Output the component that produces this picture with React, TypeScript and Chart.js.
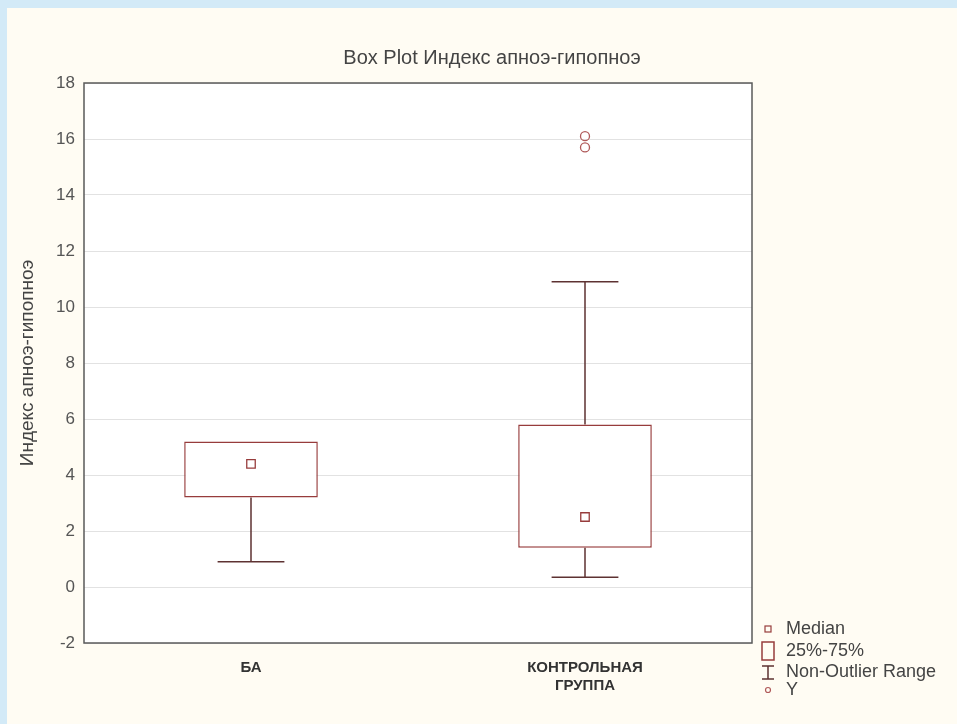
import React, { useEffect, useRef } from "react";
import { Chart, registerables } from "chart.js";
Chart.register(...registerables);

const categories = [["БА"], ["КОНТРОЛЬНАЯ", "ГРУППА"]];
const q1 = [3.2, 1.4];
const q3 = [5.2, 5.8];
const medians = [4.4, 2.5];
const whiskerLow = [0.9, 0.35];
const whiskerHigh = [5.2, 10.9];
const outliersA = [null, 16.1];
const outliersB = [null, 15.7];
const yMin = -2;
const yMax = 18;
const yStep = 2;

const titleText = "Box Plot Индекс апноэ-гипопноэ";
const yTitle = "Индекс апноэ-гипопноэ";
const legendLabels = ["Median", "25%-75%", "Non-Outlier Range", "Y"];

const FONT = "'Liberation Sans', Arial, sans-serif";
const BOX_COLOR = "#973c3c";
const WHISKER_COLOR = "#5e3232";
const FRAME_COLOR = "#5a5a5a";

const boxPlugin = {
  id: "boxExtras",
  beforeDraw(chart: any) {
    const { ctx, chartArea } = chart;
    ctx.save();
    ctx.fillStyle = "#ffffff";
    ctx.fillRect(chartArea.left, chartArea.top, chartArea.right - chartArea.left, chartArea.bottom - chartArea.top);
    ctx.restore();
  },
  beforeDatasetsDraw(chart: any) {
    const { ctx } = chart;
    const y = chart.scales.y;
    const meta = chart.getDatasetMeta(0);
    ctx.save();
    ctx.strokeStyle = WHISKER_COLOR;
    ctx.lineWidth = 1.5;
    meta.data.forEach((bar: any, i: number) => {
      const x = bar.x;
      const half = bar.width / 4;
      const yl = y.getPixelForValue(whiskerLow[i]);
      const yh = y.getPixelForValue(whiskerHigh[i]);
      const y1 = y.getPixelForValue(q1[i]);
      const y3 = y.getPixelForValue(q3[i]);
      ctx.beginPath();
      if (whiskerLow[i] < q1[i]) {
        ctx.moveTo(x, y1);
        ctx.lineTo(x, yl);
        ctx.moveTo(x - half, yl);
        ctx.lineTo(x + half, yl);
      }
      if (whiskerHigh[i] > q3[i]) {
        ctx.moveTo(x, y3);
        ctx.lineTo(x, yh);
        ctx.moveTo(x - half, yh);
        ctx.lineTo(x + half, yh);
      }
      ctx.stroke();
    });
    ctx.restore();
  },
  afterDraw(chart: any) {
    const { ctx, chartArea } = chart;
    ctx.save();
    // frame
    ctx.strokeStyle = FRAME_COLOR;
    ctx.lineWidth = 1.5;
    ctx.strokeRect(chartArea.left, chartArea.top, chartArea.right - chartArea.left, chartArea.bottom - chartArea.top);
    // title
    ctx.fillStyle = "#444";
    ctx.font = `20px ${FONT}`;
    ctx.textAlign = "center";
    ctx.textBaseline = "middle";
    ctx.fillText(titleText, 492, 58);
    // legend
    const lx = 768;
    const tx = 786;
    const rows = [629, 651, 672, 690];
    ctx.font = `18px ${FONT}`;
    ctx.textAlign = "left";
    ctx.fillStyle = "#444";
    legendLabels.forEach((t, i) => ctx.fillText(t, tx, rows[i]));
    ctx.strokeStyle = BOX_COLOR;
    ctx.lineWidth = 1.2;
    ctx.strokeRect(lx - 3, rows[0] - 3, 6, 6);
    ctx.lineWidth = 1.5;
    ctx.strokeRect(lx - 6, rows[1] - 9, 12, 18);
    ctx.strokeStyle = WHISKER_COLOR;
    ctx.beginPath();
    ctx.moveTo(lx - 6, rows[2] - 6);
    ctx.lineTo(lx + 6, rows[2] - 6);
    ctx.moveTo(lx, rows[2] - 6);
    ctx.lineTo(lx, rows[2] + 7);
    ctx.moveTo(lx - 6, rows[2] + 7);
    ctx.lineTo(lx + 6, rows[2] + 7);
    ctx.stroke();
    ctx.strokeStyle = "#b05a5a";
    ctx.lineWidth = 1.2;
    ctx.beginPath();
    ctx.arc(lx, rows[3], 2.5, 0, Math.PI * 2);
    ctx.stroke();
    ctx.restore();
  },
};

export default function App() {
  const ref = useRef<HTMLCanvasElement>(null);
  useEffect(() => {
    if (!ref.current) return;
    const chart = new Chart(ref.current, {
      type: "bar",
      data: {
        labels: categories as any,
        datasets: [
          {
            type: "bar",
            label: "25%-75%",
            data: q1.map((v, i) => [v, q3[i]]) as any,
            backgroundColor: "#ffffff",
            borderColor: BOX_COLOR,
            borderWidth: 1.5,
            borderSkipped: false,
            categoryPercentage: 0.8,
            barPercentage: 0.5,
            order: 3,
          } as any,
          {
            type: "line",
            label: "Median",
            data: medians,
            showLine: false,
            pointStyle: "rect",
            pointRadius: 6,
            pointBorderWidth: 1.3,
            pointBackgroundColor: "#ffffff",
            pointBorderColor: BOX_COLOR,
            order: 1,
          } as any,
          {
            type: "line",
            label: "Y",
            data: outliersA,
            showLine: false,
            pointStyle: "circle",
            pointRadius: 4.5,
            pointBorderWidth: 1.3,
            pointBackgroundColor: "rgba(255,255,255,0)",
            pointBorderColor: "#b05a5a",
            order: 1,
          } as any,
          {
            type: "line",
            label: "Y2",
            data: outliersB,
            showLine: false,
            pointStyle: "circle",
            pointRadius: 4.5,
            pointBorderWidth: 1.3,
            pointBackgroundColor: "rgba(255,255,255,0)",
            pointBorderColor: "#b05a5a",
            order: 1,
          } as any,
        ],
      },
      options: {
        responsive: false,
        animation: false,
        layout: { padding: { left: 14, top: 83, right: 205, bottom: 0 } },
        plugins: {
          legend: { display: false },
          tooltip: { enabled: false },
          title: { display: false },
        },
        scales: {
          x: {
            type: "category",
            offset: true,
            grid: { display: false, drawTicks: false },
            border: { display: false },
            ticks: {
              padding: 15,
              color: "#333",
              font: { family: FONT, size: 15, weight: "bold", lineHeight: 1.25 },
              maxRotation: 0,
            },
            afterFit: (s: any) => {
              s.height = 81;
            },
          },
          y: {
            type: "linear",
            min: yMin,
            max: yMax,
            grid: { color: "#e2e2e2", lineWidth: 1, drawTicks: false },
            border: { display: false },
            ticks: {
              stepSize: yStep,
              padding: 9,
              color: "#555",
              font: { family: FONT, size: 17 },
            },
            title: {
              display: true,
              text: yTitle,
              color: "#444",
              font: { family: FONT, size: 19 },
              padding: { top: 2, bottom: 2 },
            },
            afterFit: (s: any) => {
              s.width = 70;
            },
          },
        },
      },
      plugins: [boxPlugin],
    });
    return () => chart.destroy();
  }, []);

  return (
    <div style={{ position: "absolute", left: 0, top: 0, width: 957, height: 724, background: "#d3eaf7", overflow: "hidden" }}>
      <div style={{ position: "absolute", left: 7, top: 8, right: 0, bottom: 0, background: "#fffcf3" }} />
      <canvas ref={ref} width={957} height={724} style={{ position: "absolute", left: 0, top: 0 }} />
    </div>
  );
}
